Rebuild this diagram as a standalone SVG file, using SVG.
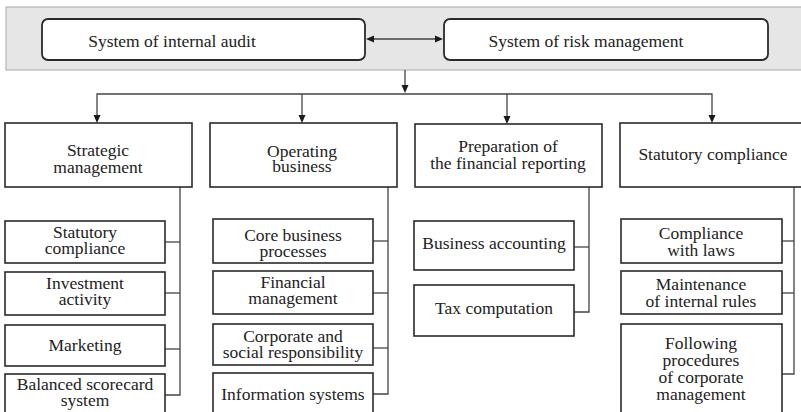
<svg xmlns="http://www.w3.org/2000/svg" width="801" height="412" viewBox="0 0 801 412">
<style>
.box{fill:#fff;stroke:#2a2a2a;stroke-width:1.6}
.rbox{fill:#fff;stroke:#2a2a2a;stroke-width:1.8}
.ln{fill:none;stroke:#444;stroke-width:1.3}
.hd{fill:#1a1a1a}
</style>
<rect x="0" y="0" width="801" height="412" fill="#fff"/>
<g id="band">
<rect x="6" y="7" width="800" height="63" fill="#e6e6e6" stroke="#aaa" stroke-width="1"/>
</g>
<g id="connectors">
<line class="ln" x1="372" y1="39" x2="437" y2="39"/>
<polygon class="hd" points="366,39 374,35.5 374,42.5"/>
<polygon class="hd" points="443,39 435,35.5 435,42.5"/>
<line class="ln" x1="405" y1="70" x2="405" y2="86"/>
<polygon class="hd" points="405,93 401.5,85 408.5,85"/>
<polyline class="ln" points="97,116 97,94 712,94 712,116"/>
<line class="ln" x1="302" y1="94" x2="302" y2="116"/>
<line class="ln" x1="507" y1="94" x2="507" y2="117"/>
<polygon class="hd" points="97,123 93.5,115 100.5,115"/>
<polygon class="hd" points="302,123 298.5,115 305.5,115"/>
<polygon class="hd" points="507,124 503.5,116 510.5,116"/>
<polygon class="hd" points="712,123 708.5,115 715.5,115"/>
<polyline class="ln" points="180,187 180,395 165,395"/>
<line class="ln" x1="165" y1="242" x2="180" y2="242"/>
<line class="ln" x1="165" y1="293" x2="180" y2="293"/>
<line class="ln" x1="165" y1="349" x2="180" y2="349"/>
<polyline class="ln" points="388,187 388,394 373,394"/>
<line class="ln" x1="373" y1="241" x2="388" y2="241"/>
<line class="ln" x1="373" y1="293" x2="388" y2="293"/>
<line class="ln" x1="373" y1="348" x2="388" y2="348"/>
<polyline class="ln" points="589,187 589,312 574,312"/>
<line class="ln" x1="574" y1="247" x2="589" y2="247"/>
<polyline class="ln" points="794,187 794,374 782,374"/>
<line class="ln" x1="782" y1="241" x2="794" y2="241"/>
<line class="ln" x1="782" y1="293" x2="794" y2="293"/>
</g>
<g id="audit">
<rect class="rbox" x="42" y="19" width="323" height="41" rx="6"/>
<text x="172" y="47" font-family="Liberation Serif" font-size="17.5" fill="#222" text-anchor="middle">System of internal audit</text>
</g>
<g id="riskmgmt">
<rect class="rbox" x="444" y="19" width="324" height="41" rx="6"/>
<text x="586" y="47" font-family="Liberation Serif" font-size="17.5" fill="#222" text-anchor="middle">System of risk management</text>
</g>
<g id="strategic">
<rect class="box" x="5" y="123" width="187" height="64"/>
<text x="98" y="156" font-family="Liberation Serif" font-size="17.5" fill="#222" text-anchor="middle">Strategic</text>
<text x="98" y="173" font-family="Liberation Serif" font-size="17.5" fill="#222" text-anchor="middle">management</text>
</g>
<g id="operating">
<rect class="box" x="210" y="123" width="187" height="64"/>
<text x="302" y="156.5" font-family="Liberation Serif" font-size="17.5" fill="#222" text-anchor="middle">Operating</text>
<text x="302" y="172" font-family="Liberation Serif" font-size="17.5" fill="#222" text-anchor="middle">business</text>
</g>
<g id="preparation">
<rect class="box" x="415" y="124" width="187" height="63"/>
<text x="508" y="152" font-family="Liberation Serif" font-size="17.5" fill="#222" text-anchor="middle">Preparation of</text>
<text x="508" y="168.5" font-family="Liberation Serif" font-size="17.5" fill="#222" text-anchor="middle">the financial reporting</text>
</g>
<g id="statutory">
<rect class="box" x="620" y="123" width="182" height="64"/>
<text x="713" y="160" font-family="Liberation Serif" font-size="17.5" fill="#222" text-anchor="middle">Statutory compliance</text>
</g>
<g id="s1">
<rect class="box" x="5" y="221" width="160" height="42"/>
<text x="85" y="238" font-family="Liberation Serif" font-size="17.5" fill="#222" text-anchor="middle">Statutory</text>
<text x="85" y="254" font-family="Liberation Serif" font-size="17.5" fill="#222" text-anchor="middle">compliance</text>
</g>
<g id="s2">
<rect class="box" x="5" y="272" width="160" height="43"/>
<text x="85" y="289" font-family="Liberation Serif" font-size="17.5" fill="#222" text-anchor="middle">Investment</text>
<text x="85" y="305" font-family="Liberation Serif" font-size="17.5" fill="#222" text-anchor="middle">activity</text>
</g>
<g id="s3">
<rect class="box" x="5" y="325" width="160" height="41"/>
<text x="85" y="351" font-family="Liberation Serif" font-size="17.5" fill="#222" text-anchor="middle">Marketing</text>
</g>
<g id="s4">
<rect class="box" x="5" y="374" width="160" height="50"/>
<text x="85" y="390" font-family="Liberation Serif" font-size="17.5" fill="#222" text-anchor="middle">Balanced scorecard</text>
<text x="85" y="406" font-family="Liberation Serif" font-size="17.5" fill="#222" text-anchor="middle">system</text>
</g>
<g id="o1">
<rect class="box" x="213" y="219" width="160" height="44"/>
<text x="293" y="240.5" font-family="Liberation Serif" font-size="17.5" fill="#222" text-anchor="middle">Core business</text>
<text x="293" y="256.5" font-family="Liberation Serif" font-size="17.5" fill="#222" text-anchor="middle">processes</text>
</g>
<g id="o2">
<rect class="box" x="213" y="271" width="160" height="43"/>
<text x="293" y="288" font-family="Liberation Serif" font-size="17.5" fill="#222" text-anchor="middle">Financial</text>
<text x="293" y="304" font-family="Liberation Serif" font-size="17.5" fill="#222" text-anchor="middle">management</text>
</g>
<g id="o3">
<rect class="box" x="213" y="324" width="160" height="41"/>
<text x="293" y="341.5" font-family="Liberation Serif" font-size="17.5" fill="#222" text-anchor="middle">Corporate and</text>
<text x="293" y="358" font-family="Liberation Serif" font-size="17.5" fill="#222" text-anchor="middle">social responsibility</text>
</g>
<g id="o4">
<rect class="box" x="213" y="373" width="160" height="51"/>
<text x="293" y="400" font-family="Liberation Serif" font-size="17.5" fill="#222" text-anchor="middle">Information systems</text>
</g>
<g id="p1">
<rect class="box" x="414" y="221" width="160" height="49"/>
<text x="494" y="249" font-family="Liberation Serif" font-size="17.5" fill="#222" text-anchor="middle">Business accounting</text>
</g>
<g id="p2">
<rect class="box" x="414" y="285" width="160" height="51"/>
<text x="494" y="314" font-family="Liberation Serif" font-size="17.5" fill="#222" text-anchor="middle">Tax computation</text>
</g>
<g id="c1">
<rect class="box" x="621" y="219" width="161" height="44"/>
<text x="701" y="239" font-family="Liberation Serif" font-size="17.5" fill="#222" text-anchor="middle">Compliance</text>
<text x="701" y="256" font-family="Liberation Serif" font-size="17.5" fill="#222" text-anchor="middle">with laws</text>
</g>
<g id="c2">
<rect class="box" x="621" y="271" width="161" height="43"/>
<text x="701" y="290" font-family="Liberation Serif" font-size="17.5" fill="#222" text-anchor="middle">Maintenance</text>
<text x="701" y="307" font-family="Liberation Serif" font-size="17.5" fill="#222" text-anchor="middle">of internal rules</text>
</g>
<g id="c3">
<rect class="box" x="621" y="324" width="161" height="100"/>
<text x="701" y="349" font-family="Liberation Serif" font-size="17.5" fill="#222" text-anchor="middle">Following</text>
<text x="701" y="366" font-family="Liberation Serif" font-size="17.5" fill="#222" text-anchor="middle">procedures</text>
<text x="701" y="383" font-family="Liberation Serif" font-size="17.5" fill="#222" text-anchor="middle">of corporate</text>
<text x="701" y="399.5" font-family="Liberation Serif" font-size="17.5" fill="#222" text-anchor="middle">management</text>
</g>
</svg>
